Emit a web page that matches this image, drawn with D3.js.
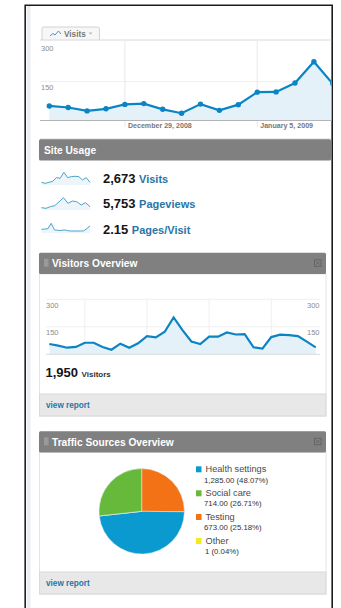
<!DOCTYPE html>
<html>
<head>
<meta charset="utf-8">
<script src="https://cdn.jsdelivr.net/npm/d3@7"></script>
<style>
html,body{margin:0;padding:0;background:#fff;overflow:hidden}
svg{display:block}
text{font-family:"Liberation Sans",Arial,sans-serif}
</style>
</head>
<body>
<svg id="report" width="341" height="608"></svg>
<script>
// Daily visits for the main timeline, from 25 Dec 2008
const visitsDaily = [56, 50, 37, 45, 62, 65, 43, 28, 63, 39, 61, 109, 110, 144, 226, 141];
// Daily visitors for the overview panel, from 25 Dec 2008
const visitorsDaily = [56, 47, 36, 40, 63, 63, 40, 25, 58, 36, 60, 99, 92, 123, 201, 132, 70, 56, 96, 96, 119, 108, 110, 38, 31, 94, 107, 105, 99, 69, 38];
const axisTicks = [150, 300];
const dateTicks = [new Date(2008, 11, 29), new Date(2009, 0, 5)];
const dateTickLabels = ["December 29, 2008", "January 5, 2009"];
const visitorGridDates = [new Date(2008, 11, 29), new Date(2009, 0, 5), new Date(2009, 0, 12), new Date(2009, 0, 19)];

// Site usage sparklines
const sparkVisits = [46, 29, 46, 64, 128, 116, 220, 128, 145, 151, 145, 87, 128, 46];
const sparkPageviews = [88, 62, 125, 162, 312, 464, 250, 338, 312, 188, 275, 125];
const sparkPagesPerVisit = [1.4, 1.5, 1.6, 3.5, 1.2, 1.05, 0.95, 1.2, 0.95, 0.8, 0.8, 0.8, 0.8, 0.85, 1.6, 2.6];
const usageValues = ["2,673", "5,753", "2.15"];
const usageNames = ["Visits", "Pageviews", "Pages/Visit"];

// Traffic sources, in the order they run clockwise round the pie
const sourceNames = ["Testing", "Health settings", "Other", "Social care"];
const sourceValues = [673, 1285, 1, 714];
const sourceColors = ["#f47216", "#0b9ad0", "#f2ec1c", "#66b93a"];
const legendOrder = ["Health settings", "Social care", "Testing", "Other"];
const legendDetails = ["1,285.00 (48.07%)", "714.00 (26.71%)", "673.00 (25.18%)", "1 (0.04%)"];

const BLUE = "#0a84c4", FILL = "#e5f1f8", LINK = "#2a74a6", BAR = "#808080", GRID = "#efefef", TICK = "#8c8c8c";
const svg = d3.select("#report");
const startDay = new Date(2008, 11, 25);
const dayAt = i => d3.timeDay.offset(startDay, i);

// Page frame and the pale strip down its left edge
svg.append("rect").attr("x", 27).attr("y", 6).attr("width", 3.5).attr("height", 602).attr("fill", "#e9edf2");
svg.append("path").attr("d", "M25.2,608V5.2H332.2V608").attr("fill", "none").attr("stroke", "#1c1c1c").attr("stroke-width", 1.6);

const defs = svg.append("defs");
defs.append("clipPath").attr("id", "frameClip").append("rect").attr("x", 30).attr("y", 6).attr("width", 301.4).attr("height", 140);

// Timeline tab
const tab = svg.append("g");
tab.append("path").attr("d", "M42,40V29q0,-2 2,-2H97.5q2,0 2,2V40").attr("fill", "#f7f7f7").attr("stroke", "#d2d2d2");
const tabLine = d3.line().x(d => d[0]).y(d => d[1]);
tab.append("path").attr("d", tabLine([[50, 36], [53, 33.5], [55, 35], [58.5, 31], [61, 34]])).attr("fill", "none").attr("stroke", "#4f93c4").attr("stroke-width", 1);
tab.append("text").attr("x", 64).attr("y", 36.8).attr("font-size", 8.2).attr("font-weight", 700).attr("fill", "#777").text("Visits");
tab.append("path").attr("d", "M88.5,32.5h4l-2,2.3z").attr("fill", "#bbb");

// Main timeline
const x1 = d3.scaleTime().domain([startDay, dayAt(30)]).range([49.3, 49.3 + 18.9 * 30]);
const y1 = d3.scaleLinear().domain([0, 300]).range([120.5, 42.5]);
const g1 = svg.append("g").attr("clip-path", "url(#frameClip)");
g1.append("line").attr("x1", 40).attr("x2", 332).attr("y1", 40).attr("y2", 40).attr("stroke", "#d8d8d8");
g1.append("line").attr("x1", 40).attr("x2", 332).attr("y1", y1(150)).attr("y2", y1(150)).attr("stroke", GRID);
g1.selectAll("line.vg").data(dateTicks).join("line").attr("class", "vg")
  .attr("x1", d => x1(d)).attr("x2", d => x1(d)).attr("y1", 41).attr("y2", 127).attr("stroke", "#e9e9e9");
const area1 = d3.area().x((d, i) => x1(dayAt(i))).y0(y1(0)).y1(d => y1(d));
const line1 = d3.line().x((d, i) => x1(dayAt(i))).y(d => y1(d));
g1.append("path").attr("d", area1(visitsDaily)).attr("fill", FILL);
g1.append("path").attr("d", line1(visitsDaily)).attr("fill", "none").attr("stroke", BLUE).attr("stroke-width", 2.2);
g1.selectAll("circle").data(visitsDaily).join("circle")
  .attr("cx", (d, i) => x1(dayAt(i))).attr("cy", d => y1(d)).attr("r", 2.7).attr("fill", BLUE);
g1.append("line").attr("x1", 40).attr("x2", 332).attr("y1", y1(0)).attr("y2", y1(0)).attr("stroke", "#b4b4b4");
g1.selectAll("text.dl").data(dateTicks).join("text").attr("class", "dl")
  .attr("x", d => x1(d) + 3).attr("y", 128.2).attr("font-size", 7.1).attr("font-weight", 700).attr("fill", "#777")
  .text((d, i) => dateTickLabels[i]);
svg.selectAll("text.yl").data(axisTicks).join("text").attr("class", "yl")
  .attr("x", 41).attr("y", d => y1(d) + 8.5).attr("font-size", 7.5).attr("fill", TICK).text(d => d);

// Section header bar, shared by the three panels
function headerBar(top, width, title, withGrip) {
  const g = svg.append("g");
  g.append("rect").attr("x", 39).attr("y", top).attr("width", width).attr("height", 21.2).attr("rx", 1.5).attr("fill", BAR);
  g.append("text").attr("x", withGrip ? 52 : 44).attr("y", top + 14.5).attr("font-size", 10.2).attr("font-weight", 700).attr("fill", "#fff").text(title);
  if (withGrip) {
    g.append("rect").attr("x", 44).attr("y", top + 6).attr("width", 4.5).attr("height", 8).attr("fill", "#9a9a9a");
    g.append("rect").attr("x", 314.5).attr("y", top + 7).attr("width", 6.5).attr("height", 6.5).attr("fill", "none").attr("stroke", "#5f5f5f").attr("stroke-width", 0.8);
    g.append("path").attr("d", `M316,${top + 8.5}l3.5,3.5m0,-3.5l-3.5,3.5`).attr("stroke", "#5f5f5f").attr("stroke-width", 0.7);
  }
}

// Panel body with its grey footer link
function panelBody(top, bottom) {
  svg.append("rect").attr("x", 39.5).attr("y", top).attr("width", 286.5).attr("height", bottom - top).attr("fill", "#fff").attr("stroke", "#e4e4e4");
  svg.append("rect").attr("x", 39.5).attr("y", bottom - 22).attr("width", 286.5).attr("height", 22).attr("fill", "#e8e8e8").attr("stroke", "#d9d9d9");
  svg.append("text").attr("x", 46).attr("y", bottom - 8).attr("font-size", 8.2).attr("font-weight", 700).attr("fill", LINK).text("view report");
}

// Site usage
svg.append("line").attr("x1", 40).attr("x2", 331).attr("y1", 139).attr("y2", 139).attr("stroke", "#d8d8d8");
headerBar(139.2, 292, "Site Usage", false);
const sparks = [sparkVisits, sparkPageviews, sparkPagesPerVisit];
const sparkBase = [185, 210, 233.3];
const sparkTop = [172.3, 197.7, 223.3];
const usageMid = [178.5, 203.5, 229];
sparks.forEach((s, k) => {
  const sx = d3.scaleLinear().domain([0, s.length - 1]).range([41.5, 90]);
  const sy = d3.scaleLinear().domain([0, d3.max(s)]).range([sparkBase[k], sparkTop[k]]);
  svg.append("path").attr("d", d3.area().x((d, i) => sx(i)).y0(sparkBase[k]).y1(d => sy(d))(s)).attr("fill", "#edf5fa");
  svg.append("path").attr("d", d3.line().x((d, i) => sx(i)).y(d => sy(d))(s)).attr("fill", "none").attr("stroke", "#4ba3c7").attr("stroke-width", 1);
  const label = svg.append("text").attr("x", 103).attr("y", usageMid[k] + 4.5).attr("font-weight", 700);
  label.append("tspan").attr("font-size", 13).attr("fill", "#151515").text(usageValues[k]);
  label.append("tspan").attr("dx", 3.5).attr("font-size", 11).attr("fill", LINK).text(usageNames[k]);
});

// Visitors overview
panelBody(274, 416);
headerBar(252.8, 287, "Visitors Overview", true);
const x2 = d3.scaleTime().domain([startDay, dayAt(30)]).range([49.3, 315.7]);
const y2 = d3.scaleLinear().domain([0, 300]).range([354.3, 299.3]);
const g2 = svg.append("g");
g2.selectAll("line.hg").data(axisTicks).join("line").attr("class", "hg")
  .attr("x1", 46).attr("x2", 320).attr("y1", d => y2(d)).attr("y2", d => y2(d)).attr("stroke", GRID);
g2.selectAll("line.vg").data(visitorGridDates).join("line").attr("class", "vg")
  .attr("x1", d => x2(d)).attr("x2", d => x2(d)).attr("y1", y2(300)).attr("y2", y2(0)).attr("stroke", GRID);
g2.append("path").attr("d", d3.area().x((d, i) => x2(dayAt(i))).y0(y2(0)).y1(d => y2(d))(visitorsDaily)).attr("fill", FILL);
g2.append("line").attr("x1", 46).attr("x2", 320).attr("y1", y2(0)).attr("y2", y2(0)).attr("stroke", "#dcdcdc");
g2.append("path").attr("d", d3.line().x((d, i) => x2(dayAt(i))).y(d => y2(d))(visitorsDaily)).attr("fill", "none").attr("stroke", BLUE).attr("stroke-width", 2.2);
g2.selectAll("text.yl").data(axisTicks).join("text").attr("class", "yl")
  .attr("x", 46).attr("y", d => y2(d) + 8.3).attr("font-size", 7.5).attr("fill", TICK).text(d => d);
g2.selectAll("text.yr").data(axisTicks).join("text").attr("class", "yr")
  .attr("x", 319.5).attr("y", d => y2(d) + 8.3).attr("text-anchor", "end").attr("font-size", 7.5).attr("fill", TICK).text(d => d);
const vis = svg.append("text").attr("x", 45.5).attr("y", 376.5).attr("font-weight", 700);
vis.append("tspan").attr("font-size", 13).attr("fill", "#151515").text("1,950");
vis.append("tspan").attr("dx", 3.5).attr("font-size", 8).attr("fill", "#333").text("Visitors");

// Traffic sources overview
panelBody(452, 594);
headerBar(431.3, 287, "Traffic Sources Overview", true);
const pie = d3.pie().sort(null).value(d => d);
const arc = d3.arc().innerRadius(0).outerRadius(42.7);
svg.append("g").attr("transform", "translate(141.7,511.3)").selectAll("path").data(pie(sourceValues)).join("path")
  .attr("d", arc).attr("fill", (d, i) => sourceColors[i]).attr("stroke", "#e8f1f4").attr("stroke-width", 0.5);
const legendY = [469.3, 493.3, 517, 541];
const legendDetailY = [480, 503.3, 527, 551.5];
const legendDetailX = [204, 204, 204, 205];
legendOrder.forEach((name, k) => {
  const c = sourceColors[sourceNames.indexOf(name)];
  svg.append("rect").attr("x", 196).attr("y", legendY[k] - 3).attr("width", 5.5).attr("height", 6).attr("fill", c);
  svg.append("text").attr("x", 205.5).attr("y", legendY[k] + 3).attr("font-family", "DejaVu Sans").attr("font-size", 9.2).attr("fill", "#4a4a4a").text(name);
  svg.append("text").attr("x", legendDetailX[k]).attr("y", legendDetailY[k] + 2.7).attr("font-family", "Liberation Sans").attr("font-size", 7.8).attr("fill", "#333").text(legendDetails[k]);
});
</script>
</body>
</html>
